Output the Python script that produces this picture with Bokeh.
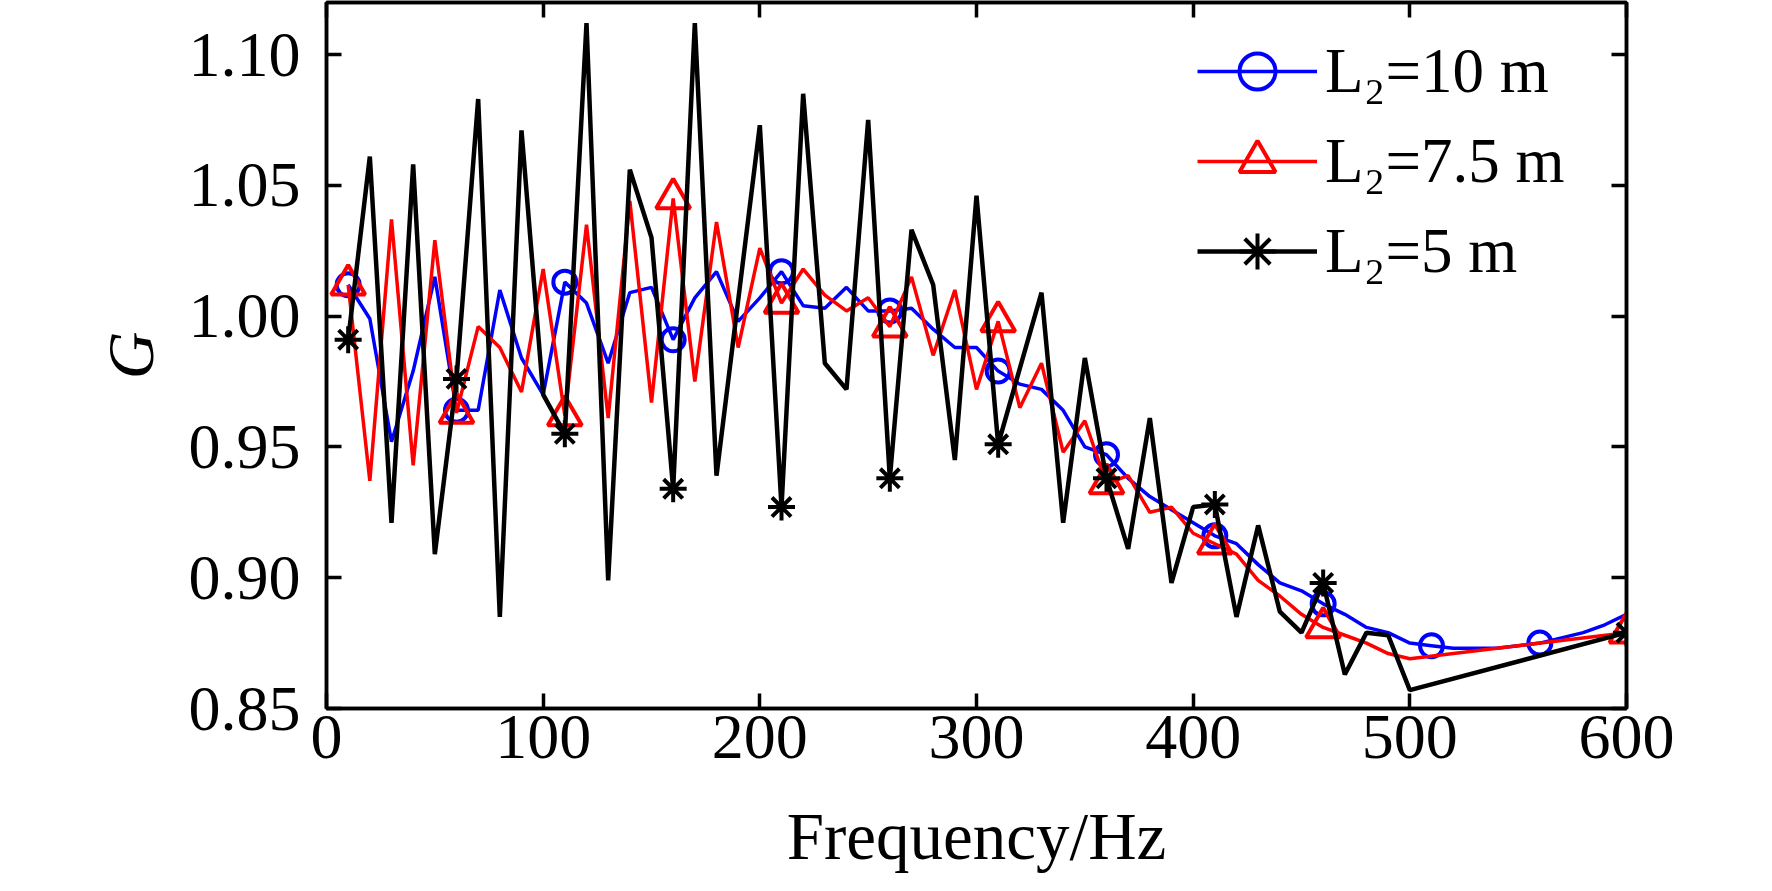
from bokeh.plotting import figure
from bokeh.models import LinearAxis, FixedTicker, Legend, LegendItem, Range1d
from bokeh.embed import file_html
from bokeh.resources import INLINE

# ---- data -------------------------------------------------------------
freq_10m = [10, 20, 30, 40, 50, 60, 70, 80, 90, 100,
            110, 120, 130, 140, 150, 160, 170, 180, 190, 200,
            210, 220, 230, 240, 250, 260, 270, 280, 290, 300,
            310, 320, 330, 340, 350, 360, 370, 380, 390, 400,
            410, 420, 430, 440, 450, 460, 470, 480, 490, 500,
            510, 520, 530, 540, 550, 560, 570, 580, 590, 600]
g_10m = [1.012, 0.999, 0.952, 0.979, 1.015, 0.964, 0.964, 1.010, 0.984, 0.970,
         1.013, 1.005, 0.982, 1.009, 1.011, 0.991, 1.007, 1.017, 0.998, 1.007,
         1.017, 1.004, 1.003, 1.011, 1.002, 1.002, 1.003, 0.995, 0.988, 0.988,
         0.979, 0.974, 0.972, 0.964, 0.950, 0.947, 0.938, 0.931, 0.926, 0.921,
         0.916, 0.913, 0.905, 0.898, 0.895, 0.890, 0.886, 0.881, 0.879, 0.875,
         0.874, 0.873, 0.873, 0.873, 0.874, 0.875, 0.877, 0.879, 0.882, 0.886]

freq_short = [10, 20, 30, 40, 50, 60, 70, 80, 90, 100,
              110, 120, 130, 140, 150, 160, 170, 180, 190, 200,
              210, 220, 230, 240, 250, 260, 270, 280, 290, 300,
              310, 320, 330, 340, 350, 360, 370, 380, 390, 400,
              410, 420, 430, 440, 450, 460, 470, 480, 490, 500,
              600]
g_7_5m = [1.012, 0.937, 1.037, 0.943, 1.029, 0.963, 0.996, 0.988, 0.971, 1.018,
          0.962, 1.035, 0.961, 1.044, 0.967, 1.045, 0.975, 1.036, 0.988, 1.026,
          1.005, 1.018, 1.008, 1.002, 1.007, 0.996, 1.015, 0.985, 1.010, 0.972,
          0.998, 0.965, 0.982, 0.948, 0.960, 0.936, 0.939, 0.925, 0.927, 0.917,
          0.913, 0.909, 0.899, 0.893, 0.886, 0.881, 0.878, 0.875, 0.871, 0.869,
          0.879]
g_5m = [0.991, 1.061, 0.921, 1.058, 0.909, 0.976, 1.083, 0.885, 1.071, 0.970,
        0.955, 1.112, 0.899, 1.056, 1.030, 0.934, 1.112, 0.939, 1.006, 1.073,
        0.927, 1.085, 0.982, 0.972, 1.075, 0.938, 1.033, 1.012, 0.945, 1.046,
        0.951, 0.980, 1.009, 0.921, 0.984, 0.938, 0.911, 0.961, 0.898, 0.927,
        0.928, 0.885, 0.920, 0.887, 0.879, 0.898, 0.863, 0.879, 0.878, 0.857,
        0.879]

x_ticks = [0, 100, 200, 300, 400, 500, 600]
y_ticks = [0.85, 0.90, 0.95, 1.00, 1.05, 1.10]
y_tick_labels = ["0.85", "0.90", "0.95", "1.00", "1.05", "1.10"]
series_labels = ["L\u2082=10 m", "L\u2082=7.5 m", "L\u2082=5 m"]
x_title = "Frequency/Hz"
y_title = "G"
marker_every = 5

FONT = "Liberation Serif"

# ---- figure -----------------------------------------------------------
p = figure(width=1756, height=875, output_backend="svg", toolbar_location=None,
           x_range=Range1d(0, 600), y_range=Range1d(0.85, 1.1199),
           min_border_left=326, min_border_right=130,
           min_border_top=2, min_border_bottom=154)
p.background_fill_color = "white"
p.border_fill_color = "white"
p.outline_line_color = "black"
p.outline_line_width = 3.5
p.xgrid.visible = False
p.ygrid.visible = False


def style_axis(ax, ticks):
    ax.ticker = FixedTicker(ticks=ticks)
    ax.axis_line_color = "black"
    ax.axis_line_width = 3.5
    ax.major_tick_line_color = "black"
    ax.major_tick_line_width = 3.5
    ax.major_tick_in = 15
    ax.major_tick_out = 0
    ax.minor_tick_line_color = None
    ax.major_label_text_font = FONT
    ax.major_label_text_font_size = "64px"
    ax.major_label_text_color = "black"


def mirror_axis(ax, ticks):
    # mirrored frame side: inward ticks only, no labels (minor ticks carry no labels)
    ax.ticker = FixedTicker(ticks=[], minor_ticks=ticks)
    ax.axis_line_color = "black"
    ax.axis_line_width = 3.5
    ax.major_tick_line_color = None
    ax.minor_tick_line_color = "black"
    ax.minor_tick_line_width = 3.5
    ax.minor_tick_in = 15
    ax.minor_tick_out = 0


xa = p.xaxis[0]
style_axis(xa, x_ticks)
xa.major_label_standoff = 7
xa.axis_label = x_title
xa.axis_label_text_font = FONT
xa.axis_label_text_font_size = "67px"
xa.axis_label_text_font_style = "normal"
xa.axis_label_text_color = "black"
xa.axis_label_standoff = 38

ya = p.yaxis[0]
style_axis(ya, y_ticks)
ya.major_label_overrides = {t: s for t, s in zip(y_ticks, y_tick_labels)}
ya.major_label_standoff = 26
ya.axis_label = y_title
ya.axis_label_text_font = FONT
ya.axis_label_text_font_size = "66px"
ya.axis_label_text_font_style = "italic"
ya.axis_label_text_color = "black"
ya.axis_label_standoff = 19

top_ax = LinearAxis()
mirror_axis(top_ax, x_ticks)
p.add_layout(top_ax, "above")
right_ax = LinearAxis()
mirror_axis(right_ax, y_ticks)
p.add_layout(right_ax, "right")

# ---- series -----------------------------------------------------------
l1 = p.line(freq_10m, g_10m, line_color="#0000FF", line_width=3.5)
m1 = p.scatter(freq_10m[::marker_every], g_10m[::marker_every], marker="circle",
               size=23, line_color="#0000FF", line_width=4, fill_color=None)
l2 = p.line(freq_short, g_7_5m, line_color="#FF0000", line_width=3.5)
m2 = p.scatter(freq_short[::marker_every], g_7_5m[::marker_every], marker="triangle",
               size=34, line_color="#FF0000", line_width=4, fill_color=None)
l3 = p.line(freq_short, g_5m, line_color="black", line_width=4.5)
m3 = p.scatter(freq_short[::marker_every], g_5m[::marker_every], marker="asterisk",
               size=27, line_color="black", line_width=4)

legend = Legend(items=[LegendItem(label=series_labels[0], renderers=[l1, m1]),
                       LegendItem(label=series_labels[1], renderers=[l2, m2]),
                       LegendItem(label=series_labels[2], renderers=[l3, m3])],
                location=(871, 412), orientation="vertical",
                glyph_width=120, glyph_height=90, label_height=90,
                label_standoff=8, spacing=0, padding=0, margin=0,
                border_line_color=None, background_fill_alpha=0,
                label_text_font=FONT, label_text_font_size="63px",
                label_text_color="black")
p.add_layout(legend)

open("out.html", "w").write(file_html(p, INLINE))
